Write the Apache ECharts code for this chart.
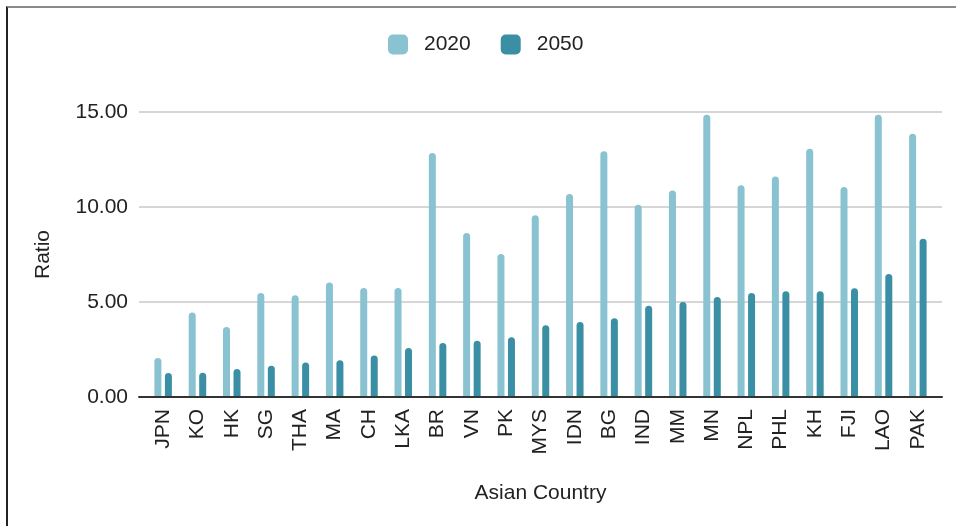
<!DOCTYPE html>
<html>
<head>
<meta charset="utf-8">
<script src="https://cdn.jsdelivr.net/npm/echarts@6/dist/echarts.min.js"></script>
<style>
  html, body { margin: 0; padding: 0; background: #fff; }
  #wrap { position: relative; width: 956px; height: 526px; overflow: hidden; }
  #chart { position: absolute; left: 0; top: 0; width: 956px; height: 526px; }
  #frame { position: absolute; left: 6px; top: 6px; width: 1000px; height: 1000px;
           border-top: 2px solid #8a8a8a; border-left: 2px solid #222; pointer-events: none; }
</style>
</head>
<body>
<div id="wrap">
  <div id="chart"></div>
  <div id="frame"></div>
</div>
<script>
const categories = ['JPN','KO','HK','SG','THA','MA','CH','LKA','BR','VN','PK','MYS','IDN','BG','IND','MM','MN','NPL','PHL','KH','FJI','LAO','PAK'];
const values2020 = [2.05, 4.45, 3.68, 5.47, 5.35, 6.03, 5.74, 5.74, 12.84, 8.63, 7.53, 9.56, 10.68, 12.93, 10.12, 10.87, 14.86, 11.14, 11.61, 13.07, 11.05, 14.86, 13.86];
const values2050 = [1.26, 1.28, 1.47, 1.65, 1.82, 1.93, 2.19, 2.58, 2.84, 2.96, 3.14, 3.77, 3.95, 4.14, 4.80, 5.00, 5.26, 5.47, 5.56, 5.56, 5.72, 6.47, 8.33];
const seriesNames = ['2020', '2050'];
const yTicks = { min: 0, max: 15, interval: 5 };

const FONT = 'Liberation Sans';
const chart = echarts.init(document.getElementById('chart'), null, { renderer: 'canvas' });
chart.setOption({
  animation: false,
  textStyle: { fontFamily: FONT },
  color: ['#89c2d1', '#3b8fa5'],
  legend: {
    left: 383, top: 29,
    itemWidth: 20, itemHeight: 20, itemGap: 30,
    icon: 'roundRect',
    textStyle: { fontFamily: FONT, fontSize: 21, color: '#222', padding: [0, 0, 0, 11] },
    data: seriesNames
  },
  grid: [
    { left: 139, right: 14, top: 112, bottom: 129 },
    { left: 146, right: 21, top: 112, bottom: 129 }
  ],
  xAxis: [
    {
      gridIndex: 0, type: 'category', data: categories,
      axisTick: { show: false }, axisLabel: { show: false },
      axisLine: { lineStyle: { color: '#333', width: 2 } },
      z: 5
    },
    {
      gridIndex: 1, type: 'category', data: categories,
      axisTick: { show: false }, axisLine: { show: false },
      axisLabel: { rotate: 90, margin: 12, fontSize: 21, color: '#222', fontFamily: FONT, interval: 0 },
      name: 'Asian Country', nameLocation: 'middle', nameGap: 86,
      nameTextStyle: { fontSize: 21, color: '#222', fontFamily: FONT }
    }
  ],
  yAxis: [
    {
      gridIndex: 0, type: 'value', min: yTicks.min, max: yTicks.max, interval: yTicks.interval,
      axisLine: { show: false }, axisTick: { show: false },
      splitLine: { lineStyle: { color: '#c8c8c8', width: 1.5 } },
      axisLabel: { margin: 11, fontSize: 21, color: '#222', fontFamily: FONT,
                   formatter: v => v.toFixed(2) },
      name: 'Ratio', nameLocation: 'middle', nameGap: 85,
      nameTextStyle: { fontSize: 21, color: '#222', fontFamily: FONT }
    },
    {
      gridIndex: 1, type: 'value', min: yTicks.min, max: yTicks.max, interval: yTicks.interval,
      show: false, splitLine: { show: false }
    }
  ],
  series: [
    {
      name: seriesNames[0], type: 'bar', xAxisIndex: 1, yAxisIndex: 1,
      data: values2020, barWidth: 7, barGap: '50%',
      itemStyle: { borderRadius: [3.5, 3.5, 0, 0] }
    },
    {
      name: seriesNames[1], type: 'bar', xAxisIndex: 1, yAxisIndex: 1,
      data: values2050, barWidth: 7, barGap: '50%',
      itemStyle: { borderRadius: [3.5, 3.5, 0, 0] }
    }
  ]
});
</script>
</body>
</html>
